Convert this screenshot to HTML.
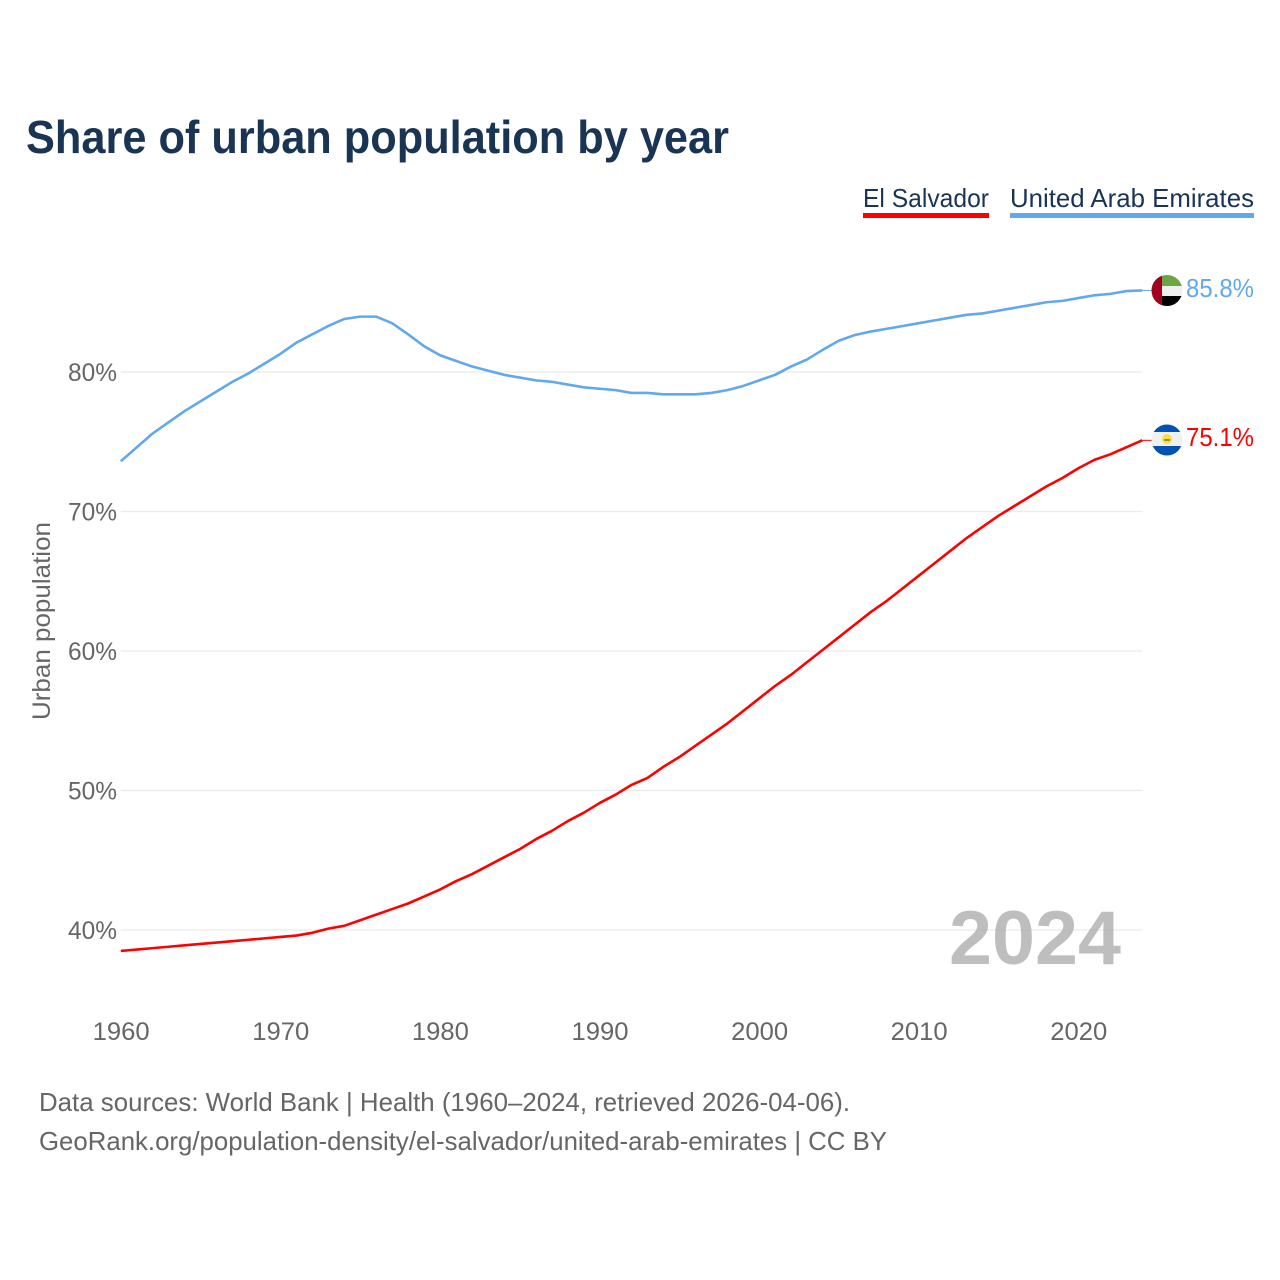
<!DOCTYPE html>
<html>
<head>
<meta charset="utf-8">
<title>Share of urban population by year</title>
<style>
html,body{margin:0;padding:0;background:#fff;}
svg{display:block;}
text{font-family:"Liberation Sans",sans-serif;}
</style>
</head>
<body>
<svg id="chart" width="1280" height="1280" viewBox="0 0 1280 1280">
  <rect x="0" y="0" width="1280" height="1280" fill="#fff"/>
  <text x="26" y="153" font-size="46" font-weight="700" fill="#1a3454" textLength="703" lengthAdjust="spacingAndGlyphs">Share of urban population by year</text>

  <text x="863" y="207" font-size="26" fill="#1a3454" textLength="126" lengthAdjust="spacingAndGlyphs">El Salvador</text>
  <rect x="863" y="213" width="126" height="5" fill="#ff0000"/>
  <text x="1010" y="207" font-size="26" fill="#1a3454" textLength="244" lengthAdjust="spacingAndGlyphs">United Arab Emirates</text>
  <rect x="1010" y="213" width="244" height="5" fill="#62a8ee"/>

  <g id="grid"></g>
  <text x="1121" y="964" font-size="76" font-weight="700" fill="#a8a8a8" fill-opacity="0.75" text-anchor="end" textLength="172" lengthAdjust="spacingAndGlyphs">2024</text>
  <g id="yticks"></g>
  <g id="xticks"></g>
  <text transform="translate(50,621) rotate(-90)" font-size="25" fill="#666" text-anchor="middle" textLength="198" lengthAdjust="spacingAndGlyphs">Urban population</text>

  <g id="series"></g>

  <defs>
    <clipPath id="clip-uae"><circle cx="1167" cy="290.500" r="15.500"/></clipPath>
    <clipPath id="clip-sv"><circle cx="1167" cy="440" r="15.500"/></clipPath>
  </defs>
  <g clip-path="url(#clip-uae)">
    <rect x="1151" y="274" width="32" height="12" fill="#6da544"/>
    <rect x="1151" y="286" width="32" height="10" fill="#f0f0f0"/>
    <rect x="1151" y="296" width="32" height="11" fill="#000"/>
    <rect x="1151" y="274" width="11" height="33" fill="#a2001d"/>
  </g>
  <g clip-path="url(#clip-sv)">
    <rect x="1151" y="424" width="32" height="8" fill="#0052b4"/>
    <rect x="1151" y="432" width="32" height="14" fill="#f0f0f0"/>
    <rect x="1151" y="446" width="32" height="11" fill="#0052b4"/>
    <circle cx="1167" cy="439" r="5" fill="#ffda44"/>
    <rect x="1164" y="439" width="6" height="2" fill="#6da544"/>
  </g>

  <text x="1254" y="297" font-size="26" fill="#62a8ee" text-anchor="end" textLength="68" lengthAdjust="spacingAndGlyphs">85.8%</text>
  <text x="1254" y="446" font-size="26" fill="#ff0000" text-anchor="end" textLength="68" lengthAdjust="spacingAndGlyphs">75.1%</text>

  <text x="39" y="1111" font-size="26" fill="#666" textLength="811" lengthAdjust="spacingAndGlyphs">Data sources: World Bank | Health (1960–2024, retrieved 2026-04-06).</text>
  <text x="39" y="1150" font-size="26" fill="#666" textLength="848" lengthAdjust="spacingAndGlyphs">GeoRank.org/population-density/el-salvador/united-arab-emirates | CC BY</text>
</svg>
<script>
var years = [1960,1961,1962,1963,1964,1965,1966,1967,1968,1969,1970,1971,1972,1973,1974,1975,1976,1977,1978,1979,1980,1981,1982,1983,1984,1985,1986,1987,1988,1989,1990,1991,1992,1993,1994,1995,1996,1997,1998,1999,2000,2001,2002,2003,2004,2005,2006,2007,2008,2009,2010,2011,2012,2013,2014,2015,2016,2017,2018,2019,2020,2021,2022,2023,2024];
var uaeValues = [73.6,74.6,75.6,76.4,77.2,77.9,78.6,79.3,79.9,80.6,81.3,82.1,82.7,83.3,83.8,83.97,83.97,83.5,82.7,81.85,81.2,80.8,80.4,80.1,79.8,79.6,79.4,79.3,79.1,78.9,78.8,78.7,78.5,78.5,78.4,78.4,78.4,78.5,78.7,79.0,79.4,79.8,80.4,80.9,81.6,82.25,82.65,82.9,83.1,83.3,83.5,83.7,83.9,84.1,84.2,84.4,84.6,84.8,85.0,85.1,85.3,85.5,85.6,85.8,85.85];
var salvadorValues = [38.5,38.6,38.7,38.8,38.9,39.0,39.1,39.2,39.3,39.4,39.5,39.6,39.8,40.1,40.3,40.7,41.1,41.5,41.9,42.4,42.9,43.5,44.0,44.6,45.2,45.8,46.5,47.1,47.8,48.4,49.1,49.7,50.4,50.9,51.7,52.4,53.2,54.0,54.8,55.7,56.6,57.5,58.3,59.2,60.1,61.0,61.9,62.8,63.6,64.5,65.4,66.3,67.2,68.1,68.9,69.7,70.4,71.1,71.8,72.4,73.1,73.7,74.1,74.6,75.1];
var yTickValues = [40,50,60,70,80];
var xTickValues = [1960,1970,1980,1990,2000,2010,2020];

var NS = 'http://www.w3.org/2000/svg';
function xScale(year){ return 120.8 + (year - 1960) * 15.96; }
function yScale(pct){ return 372 + (80 - pct) * 13.95; }

var grid = document.getElementById('grid');
var yticks = document.getElementById('yticks');
var xticks = document.getElementById('xticks');
var seriesGroup = document.getElementById('series');

yTickValues.forEach(function(v){
  var line = document.createElementNS(NS, 'line');
  
  
  line.setAttribute('x1', xScale(1960));
  line.setAttribute('x2', xScale(2024));
  line.setAttribute('y1', yScale(v));
  line.setAttribute('y2', yScale(v));
  line.setAttribute('stroke', '#ebebeb');
  line.setAttribute('stroke-width', '1.3');
  grid.appendChild(line);

  var t = document.createElementNS(NS, 'text');
  
  
  t.setAttribute('x', 117);
  t.setAttribute('y', yScale(v) + 9);
  t.setAttribute('font-size', '25');
  t.setAttribute('fill', '#666');
  t.setAttribute('text-anchor', 'end');
  t.setAttribute('textLength', '49');
  t.setAttribute('lengthAdjust', 'spacingAndGlyphs');
  t.textContent = v + '%';
  yticks.appendChild(t);
});

xTickValues.forEach(function(v){
  var t = document.createElementNS(NS, 'text');
  
  
  t.setAttribute('x', xScale(v) + 0.4);
  t.setAttribute('y', 1040);
  t.setAttribute('font-size', '25');
  t.setAttribute('fill', '#666');
  t.setAttribute('text-anchor', 'middle');
  t.setAttribute('textLength', '57');
  t.setAttribute('lengthAdjust', 'spacingAndGlyphs');
  t.textContent = v;
  xticks.appendChild(t);
});

function drawSeries(values, color, name){
  var pts = values.map(function(v, i){
    return xScale(years[i]).toFixed(2) + ',' + yScale(v).toFixed(2);
  }).join(' ');
  var line = document.createElementNS(NS, 'polyline');
  
  
  line.setAttribute('points', pts);
  line.setAttribute('fill', 'none');
  line.setAttribute('stroke', color);
  line.setAttribute('stroke-width', '2.6');
  line.setAttribute('stroke-linejoin', 'round');
  seriesGroup.appendChild(line);

  var leader = document.createElementNS(NS, 'line');
  
  
  leader.setAttribute('x1', xScale(2024));
  leader.setAttribute('x2', xScale(2024) + 10);
  leader.setAttribute('y1', yScale(values[values.length - 1]));
  leader.setAttribute('y2', yScale(values[values.length - 1]));
  leader.setAttribute('stroke', color);
  leader.setAttribute('stroke-width', '1');
  seriesGroup.appendChild(leader);
}
drawSeries(uaeValues, '#62a8ee', 'line-united-arab-emirates');
drawSeries(salvadorValues, '#ff0000', 'line-el-salvador');
</script>
</body>
</html>
